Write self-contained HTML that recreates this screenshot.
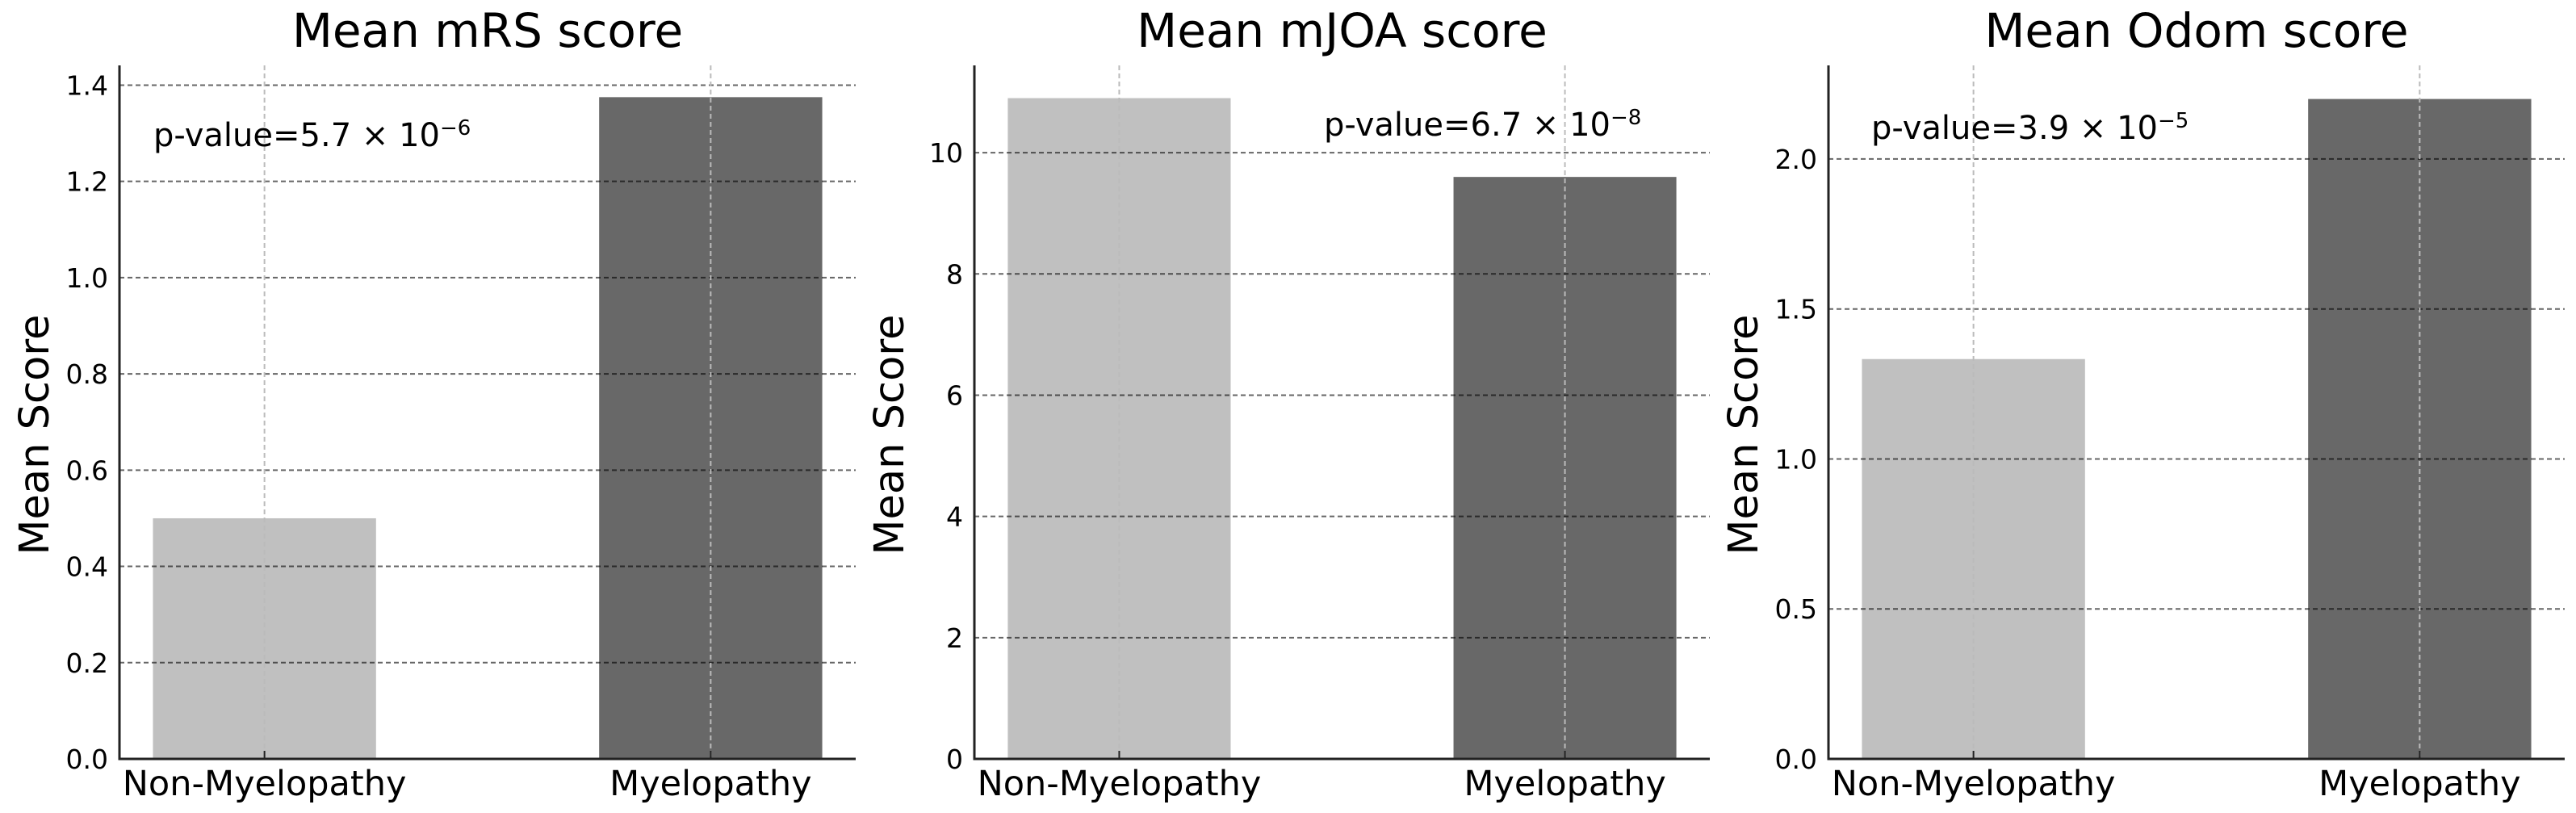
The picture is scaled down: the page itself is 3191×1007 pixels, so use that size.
<!DOCTYPE html>
<html><head><meta charset="utf-8">
<style>
html,body{margin:0;padding:0;background:#fff;}
svg{display:block;}
text{font-family:"DejaVu Sans","Liberation Sans",sans-serif;fill:#000;}
</style></head>
<body>
<svg id="chart" width="3191" height="1007" viewBox="0 0 3191 1007" xmlns="http://www.w3.org/2000/svg"></svg>
<script>
const categories = ["Non-Myelopathy", "Myelopathy"];
const titles = ["Mean mRS score", "Mean mJOA score", "Mean Odom score"];
const mrsValues = [0.5, 1.375];
const mjoaValues = [10.9, 9.6];
const odomValues = [1.333, 2.2];
const mrsTicks = [0.0, 0.2, 0.4, 0.6, 0.8, 1.0, 1.2, 1.4];
const mjoaTicks = [0, 2, 4, 6, 8, 10];
const odomTicks = [0.0, 0.5, 1.0, 1.5, 2.0];
const mrsTickLabels = ["0.0","0.2","0.4","0.6","0.8","1.0","1.2","1.4"];
const mjoaTickLabels = ["0","2","4","6","8","10"];
const odomTickLabels = ["0.0","0.5","1.0","1.5","2.0"];
const yMaxes = [1.441, 11.44, 2.312];
const pValueTexts = [["5.7","6"],["6.7","8"],["3.9","5"]];

const NS = "http://www.w3.org/2000/svg";
const svg = document.getElementById("chart");
function mk(tag, attrs, parent){
  const e = document.createElementNS(NS, tag);
  for (const k in attrs) e.setAttribute(k, attrs[k]);
  (parent||svg).appendChild(e);
  return e;
}
const panels = [
  {left:148, right:1060, values:mrsValues, ticks:mrsTicks, labels:mrsTickLabels, px:190, py:181},
  {left:1207, right:2118, values:mjoaValues, ticks:mjoaTicks, labels:mjoaTickLabels, px:1640, py:168},
  {left:2265, right:3177, values:odomValues, ticks:odomTicks, labels:odomTickLabels, px:2318, py:172}
];
const axTop = 81, axBottom = 940;
const barColors = ["#c0c0c0", "#686868"];
panels.forEach((p, i) => {
  const g = mk("g", {});
  
  
  const xs = v => p.left + (v + 0.325) / 1.65 * (p.right - p.left);
  const ys = v => axBottom - v / yMaxes[i] * (axBottom - axTop);
  const bw = 0.5 / 1.65 * (p.right - p.left);
  p.values.forEach((v, j) => {
    const r = mk("rect", {x: xs(j) - bw/2, y: ys(v), width: bw, height: axBottom - ys(v), fill: barColors[j]}, g);
    
    
  });
  p.ticks.forEach((t, k) => {
    if (t !== 0) {
      const l = mk("line", {x1: p.left, x2: p.right, y1: ys(t), y2: ys(t), stroke: "#000", "stroke-opacity": 0.6, "stroke-width": 2, "stroke-dasharray": "6,4"}, g);
      
      
    }
    const tl = mk("text", {x: p.left - 14, y: ys(t) + 12, "text-anchor": "end", "font-size": 33, fill: "#222"}, g);
    tl.textContent = p.labels[k];
    
    
  });
  categories.forEach((c, j) => {
    const vl = mk("line", {x1: xs(j), x2: xs(j), y1: axTop, y2: axBottom, stroke: "#bbb", "stroke-width": 2, "stroke-dasharray": "6,4"}, g);
    
    
    const tk = mk("line", {x1: xs(j), x2: xs(j), y1: axBottom, y2: axBottom - 10, stroke: "#222", "stroke-width": 2}, g);
    
    
    const xl = mk("text", {x: xs(j), y: 985, "text-anchor": "middle", "font-size": 43}, g);
    xl.textContent = c;
    
    
  });
  const sp = mk("path", {d: `M${p.left},${axTop} L${p.left},${axBottom} L${p.right},${axBottom}`, fill: "none", stroke: "#222", "stroke-width": 3}, g);
  
  
  const tt = mk("text", {x: (p.left + p.right)/2, y: 58, "text-anchor": "middle", "font-size": 58}, g);
  tt.textContent = titles[i];
  
  
  const cy = (axTop + axBottom)/2 + 28;
  const yl = mk("text", {x: p.left - 88, y: cy, "text-anchor": "middle", "font-size": 51, transform: `rotate(-90 ${p.left - 88} ${cy})`}, g);
  yl.textContent = "Mean Score";
  
  
  const pt = mk("text", {x: p.px, y: p.py, "font-size": 40}, g);
  pt.textContent = "p-value=" + pValueTexts[i][0] + " × 10";
  const sup = mk("tspan", {dy: -14, "font-size": 26}, pt);
  sup.textContent = "−" + pValueTexts[i][1];
  
  
});
</script>
</body></html>
